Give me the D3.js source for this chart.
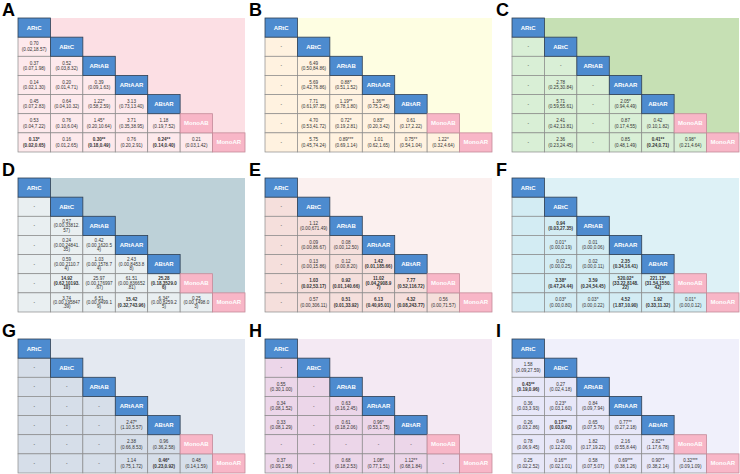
<!DOCTYPE html>
<html><head><meta charset="utf-8">
<script src="https://cdn.jsdelivr.net/npm/d3@7"></script>
<style>body{margin:0;background:#fff}svg{display:block}</style>
</head><body><svg id="c" width="740" height="474"></svg>
<script>
const treatments = ["ARtC","ABtC","ARtAB","ARtAAR","ABtAR","MonoAB","MonoAR"];
const blueDiag = ["ARtC","ABtC","ARtAB","ARtAAR","ABtAR"];
const panelLabels = ["A","B","C","D","E","F","G","H","I"];
const panelBg   = ["#fcdfe4","#fefee2","#c6e0b4","#bdd1d8","#fbf0ef","#ddf1f6","#e4e9f1","#f4e9f3","#f0f0fb"];
const panelCell = ["#fde9ec","#fff2e0","#d9efd6","#e9eff1","#f5dfdc","#d3ecf3","#d6dee9","#ecd6e9","#e7e7f8"];
// "!" marks bold; "|" separates estimate and CI
const cellsA = [
 ["0.70|(0.02,18.57)"],
 ["0.37|(0.07,1.98)","0.52|(0.03,8.32)"],
 ["0.14|(0.02,1.30)","0.20|(0.01,4.71)","0.39|(0.09,1.63)"],
 ["0.45|(0.07,2.83)","0.64|(0.04,10.32)","1.22*|(0.58,2.59)","3.13|(0.73,13.40)"],
 ["0.53|(0.04,7.22)","0.76|(0.10,6.04)","1.45*|(0.20,10.64)","3.71|(0.35,38.95)","1.18|(0.19,7.52)"],
 ["!0.13*|(0.02,0.65)","0.16|(0.01,2.65)","!0.30**|(0.18,0.49)","0.76|(0.20,2.91)","!0.24**|(0.14,0.40)","0.21|(0.03,1.42)"]
];
const cellsB = [
 ["-"],
 ["-","6.49|(0.50,84.86)"],
 ["-","5.69|(0.42,76.86)","0.88*|(0.51,1.52)"],
 ["-","7.71|(0.61,97.35)","1.19**|(0.78,1.80)","1.36**|(0.75,2.45)"],
 ["-","4.70|(0.53,41.72)","0.72*|(0.19,2.81)","0.83*|(0.20,3.42)","0.61|(0.17,2.22)"],
 ["-","5.75|(0.45,74.24)","0.89***|(0.69,1.14)","1.01|(0.62,1.65)","0.75**|(0.54,1.04)","1.22*|(0.32,4.64)"]
];
const cellsC = [
 ["-"],
 ["-","-"],
 ["-","2.78|(0.25,30.84)","-"],
 ["-","5.71|(0.59,55.61)","-","2.05*|(0.94,4.49)"],
 ["-","2.41|(0.42,13.81)","-","0.87|(0.17,4.55)","0.42|(0.10,1.82)"],
 ["-","2.36|(0.23,24.45)","-","0.85|(0.48,1.49)","!0.41**|(0.24,0.71)","0.98*|(0.21,4.64)"]
];
const cellsD = [
 ["-"],
 ["-","0.57|(0.00,33812.57)"],
 ["-","0.24|(0.00,24841.35)","0.42|(0.00,1620.54)"],
 ["-","0.59|(0.00,2110.74)","1.03|(0.00,1578.74)","2.43|(0.00,8453.88)"],
 ["-","!14.92|(0.62,10193.10)","25.97|(0.00,176997.67)","61.51|(0.00,836652.81)","!25.28|(0.18,3529.06)"],
 ["-","3.74|(0.00,195847.39)","6.51|(0.00,9499.19)","!15.42|(0.32,743.96)","6.34*|(0.00,8259.25)","0.25|(0.00,1498.03)"]
];
const cellsE = [
 ["-"],
 ["-","1.12|(0.00,671.49)"],
 ["-","0.09|(0.00,86.67)","0.08|(0.00,12.50)"],
 ["-","0.13|(0.00,15.86)","0.12|(0.00,8.20)","!1.42|(0.01,185.66)"],
 ["-","!1.03|(0.02,53.17)","!0.92|(0.01,140.66)","!11.02|(0.04,2908.97)","!7.77|(0.52,116.72)"],
 ["-","0.57|(0.00,306.11)","!0.51|(0.01,33.92)","!6.13|(0.40,95.01)","!4.32|(0.08,243.77)","0.56|(0.00,71.57)"]
];
const cellsF = [
 [""],
 ["","!0.94|(0.03,27.35)"],
 ["","0.01*|(0.00,0.19)","0.01|(0.00,0.06)"],
 ["","0.02|(0.00,0.25)","0.02|(0.00,0.11)","!2.35|(0.34,16.41)"],
 ["","!3.38*|(0.47,24.44)","!3.59|(0.24,54.45)","!520.02*|(33.22,8148.22)","!221.13*|(31.54,1550.42)"],
 ["","0.03*|(0.00,0.80)","0.03*|(0.00,0.22)","!4.52|(1.87,10.90)","!1.92|(0.33,11.32)","0.01*|(0.00,0.12)"]
];
const cellsG = [
 ["-"],
 ["-","-"],
 ["-","-","-"],
 ["-","-","-","2.47*|(1.10,5.57)"],
 ["-","-","-","2.38|(0.66,8.53)","0.96|(0.36,2.58)"],
 ["-","-","-","1.14|(0.75,1.72)","!0.46*|(0.23,0.92)","0.48|(0.14,1.59)"]
];
const cellsH = [
 ["-"],
 ["0.55|(0.30,1.00)","-"],
 ["0.34|(0.08,1.52)","-","0.63|(0.16,2.45)"],
 ["0.33|(0.08,1.29)","-","0.61|(0.18,2.06)","0.96*|(0.53,1.75)"],
 ["-","-","-","-","-"],
 ["0.37|(0.09,1.58)","-","0.68|(0.18,2.53)","1.08*|(0.77,1.51)","1.12**|(0.68,1.84)","-"]
];
const cellsI = [
 ["1.58|(0.09,27.59)"],
 ["!0.43**|(0.19,0.96)","0.27|(0.02,4.18)"],
 ["0.36|(0.03,3.93)","0.23*|(0.03,1.60)","0.84|(0.09,7.94)"],
 ["0.26|(0.03,2.86)","!0.17**|(0.03,0.92)","0.65|(0.07,5.76)","0.77**|(0.27,2.18)"],
 ["0.78|(0.06,9.45)","0.49|(0.12,2.00)","1.82|(0.17,19.22)","2.16|(0.55,8.44)","2.82**|(1.17,6.78)"],
 ["0.25|(0.02,2.52)","0.16**|(0.02,1.01)","0.58|(0.07,5.07)","0.69***|(0.38,1.26)","0.90**|(0.38,2.14)","0.32***|(0.09,1.09)"]
];
const allCells = [cellsA,cellsB,cellsC,cellsD,cellsE,cellsF,cellsG,cellsH,cellsI];

const tableLeft = [18, 265, 512];
const tableTop = [18, 178, 339];
const tableW = 227, tableH = 134;
const font = "'Liberation Sans', Arial, sans-serif";

const svg = d3.select("#c");

allCells.forEach((cells, p) => {
  const col = p % 3, row = Math.floor(p / 3);
  const x0 = tableLeft[col], y0 = tableTop[row];
  const x = d3.scaleBand().domain(treatments).range([x0, x0 + tableW]);
  const y = d3.scaleBand().domain(treatments).range([y0, y0 + tableH]);
  const g = svg.append("g");

  g.append("text").attr("x", x0 - 16).attr("y", y0 - 2)
    .attr("font-family", font).attr("font-weight", "bold").attr("font-size", 18)
    .attr("fill", "#000").text(panelLabels[p]);

  g.append("rect").attr("x", x0).attr("y", y0).attr("width", tableW).attr("height", tableH)
    .attr("fill", panelBg[p]);

  // lower-triangle cells
  const flat = [];
  cells.forEach((r, i) => r.forEach((v, j) => flat.push({r: treatments[i + 1], c: treatments[j], v})));
  const cg = g.selectAll("g.cell").data(flat).join("g").attr("class", "cell");
  cg.append("rect")
    .attr("x", d => x(d.c)).attr("y", d => y(d.r))
    .attr("width", x.bandwidth()).attr("height", y.bandwidth())
    .attr("fill", panelCell[p]).attr("stroke", "#8a8a8a").attr("stroke-width", 0.7);
  cg.each(function(d) {
    let s = d.v, bold = false;
    if (s.startsWith("!")) { bold = true; s = s.slice(1); }
    const parts = s.split("|");
    let lines = [parts[0]];
    if (parts[1]) {
      let ci = parts[1];
      if (ci.length > 13) lines.push(ci.slice(0, 12), ci.slice(12));
      else lines.push(ci);
    }
    const lh = lines.length === 3 ? 4.3 : 5.6;
    const cx = x(d.c) + x.bandwidth() / 2, cy = y(d.r) + y.bandwidth() / 2;
    const t = d3.select(this).append("text")
      .attr("font-family", font).attr("font-size", 4.6)
      .attr("font-weight", bold ? "bold" : "normal")
      .attr("fill", "#333").attr("text-anchor", "middle");
    lines.forEach((ln, k) => {
      t.append("tspan").attr("x", cx)
        .attr("y", cy + (k - (lines.length - 1) / 2) * lh)
        .attr("dominant-baseline", "central").text(ln);
    });
  });

  // diagonal cells
  const dg = g.selectAll("g.diag").data(treatments).join("g").attr("class", "diag");
  dg.append("rect")
    .attr("x", d => x(d)).attr("y", d => y(d))
    .attr("width", x.bandwidth()).attr("height", y.bandwidth())
    .attr("fill", d => blueDiag.includes(d) ? "#4d8bcf" : "#f8b6c7")
    .attr("stroke", d => blueDiag.includes(d) ? "#2f3f52" : "#c48b99").attr("stroke-width", 0.8);
  dg.append("text")
    .attr("x", d => x(d) + x.bandwidth() / 2).attr("y", d => y(d) + y.bandwidth() / 2)
    .attr("dominant-baseline", "central").attr("text-anchor", "middle")
    .attr("font-family", font).attr("font-weight", "bold").attr("font-size", 6)
    .attr("fill", "#fff").text(d => d);
});
</script></body></html>
